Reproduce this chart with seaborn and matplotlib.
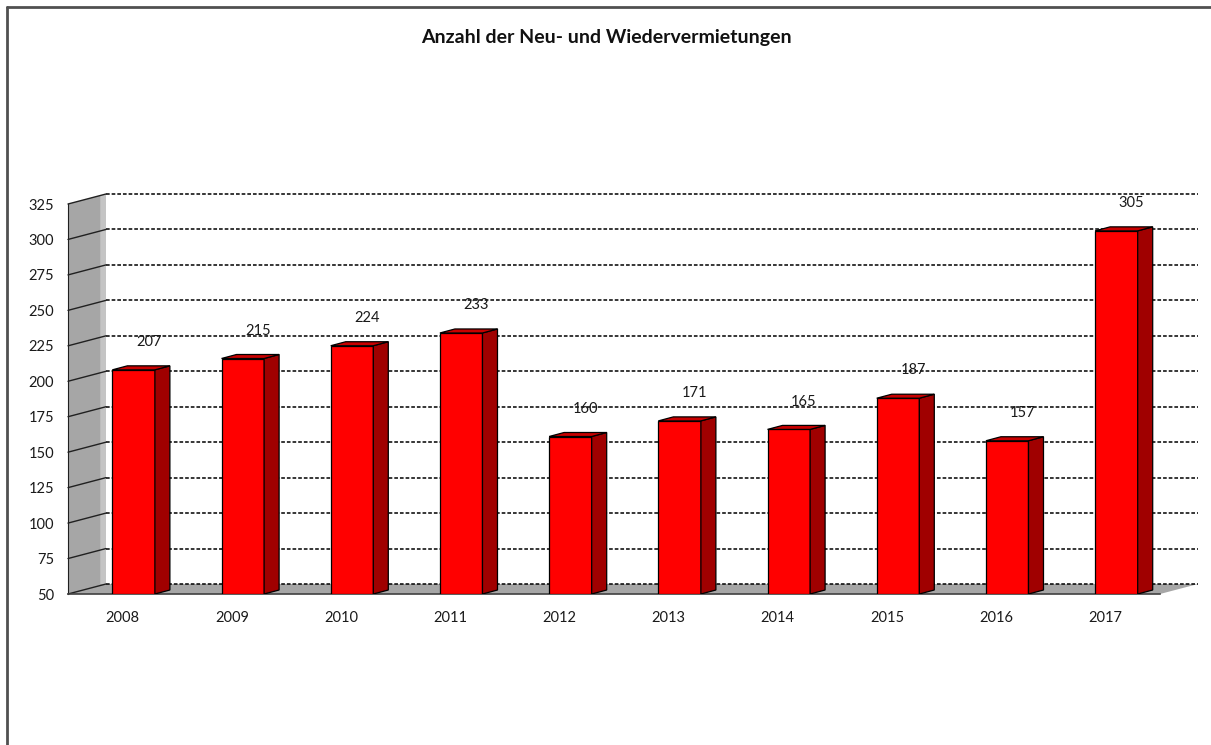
import pandas as pd
import matplotlib
matplotlib.use("Agg")
import matplotlib.pyplot as plt
from matplotlib.patches import Polygon
import seaborn as sns

# data
years = ["2008", "2009", "2010", "2011", "2012", "2013", "2014", "2015", "2016", "2017"]
counts = [207, 215, 224, 233, 160, 171, 165, 187, 157, 305]
y_ticks = [50, 75, 100, 125, 150, 175, 200, 225, 250, 275, 300, 325]
title = "Anzahl der Neu- und Wiedervermietungen"

df = pd.DataFrame({"Jahr": years, "Anzahl": counts})

sns.set_style("white")
plt.rcParams["font.family"] = ["Lato", "DejaVu Sans"]

W, H = 1211, 745
fig = plt.figure(figsize=(W / 100, H / 100), dpi=100)
# axes placed so the front plane matches the reference
ax = fig.add_axes([68 / W, (H - 594) / H, 1092 / W, 390 / H])
ymin, ymax = y_ticks[0], y_ticks[-1]
ax.set_xlim(-0.5, len(years) - 0.5)
ax.set_ylim(ymin, ymax)

# pixel -> data helpers for the fake 3d depth
px_x = 1092 / len(years)
px_y = 390 / (ymax - ymin)
wall_dx, wall_dy = 38 / px_x, 10 / px_y   # back wall offset
bar_dx, bar_dy = 15 / px_x, 4 / px_y      # bar depth
shift = 11 / px_x                          # bars sit mid-depth
lift = 1.5 / px_y

wall_col = "#a6a6a6"
x0, x1 = -0.5, len(years) - 0.5

# left wall
ax.add_patch(Polygon([(x0, ymin), (x0, ymax), (x0 + wall_dx, ymax + wall_dy),
                      (x0 + wall_dx, ymin + wall_dy)], closed=True,
                     facecolor=wall_col, edgecolor="none", clip_on=False, zorder=1))
ax.add_patch(Polygon([(x0 + wall_dx * 0.85, ymin + wall_dy), (x0 + wall_dx * 0.85, ymax + wall_dy * 0.85),
                      (x0 + wall_dx, ymax + wall_dy), (x0 + wall_dx, ymin + wall_dy)], closed=True,
                     facecolor="#c4c4c4", edgecolor="none", clip_on=False, zorder=1))
# floor
ax.add_patch(Polygon([(x0, ymin), (x1, ymin), (x1 + wall_dx, ymin + wall_dy),
                      (x0 + wall_dx, ymin + wall_dy)], closed=True,
                     facecolor=wall_col, edgecolor="none", clip_on=False, zorder=1))

# gridlines on the back wall + slanted lines over the side wall
for v in y_ticks:
    ax.plot([x0 + wall_dx, x1 + wall_dx], [v + wall_dy, v + wall_dy], color="black",
            lw=1.1, dashes=(2.4, 1.3), clip_on=False, zorder=2)
    ax.plot([x0, x0 + wall_dx], [v, v + wall_dy], color="#202020", lw=1.0,
            clip_on=False, zorder=2)

# front faces
sns.barplot(data=df, x="Jahr", y="Anzahl", color="#ff0000", width=0.39,
            edgecolor="black", linewidth=0.9, saturation=1, ax=ax, zorder=3)

for p in ax.containers[0]:
    val = p.get_y() + p.get_height()
    top = val + lift
    p.set_x(p.get_x() + shift)
    p.set_y(ymin)
    p.set_height(top - ymin)
    l, r = p.get_x(), p.get_x() + p.get_width()
    # side face
    ax.add_patch(Polygon([(r, ymin), (r, top), (r + bar_dx, top + bar_dy), (r + bar_dx, ymin + bar_dy)],
                         closed=True, facecolor="#a00000", edgecolor="black", lw=0.9, zorder=3))
    # top face
    ax.add_patch(Polygon([(l, top), (r, top), (r + bar_dx, top + bar_dy), (l + bar_dx, top + bar_dy)],
                         closed=True, facecolor="#c80000", edgecolor="black", lw=0.9, zorder=3,
                         clip_on=False))
    ax.annotate(f"{val:.0f}", xy=((l + r) / 2 + bar_dx, top), xytext=(0, 20),
                textcoords="offset points", ha="center", va="center",
                fontsize=10.5, color="#1a1a1a", zorder=5)

# axes styling
for s in ["top", "right"]:
    ax.spines[s].set_visible(False)
ax.spines["left"].set_color("#202020")
ax.spines["bottom"].set_color("#404040")
ax.spines["bottom"].set_linewidth(1.2)
ax.set_yticks(y_ticks)
ax.set_yticklabels([str(v) for v in y_ticks], fontsize=10.5, color="#1a1a1a")
ax.set_xticks(range(len(years)))
ax.set_xticklabels(years, fontsize=10.5, color="#1a1a1a")
ax.set_xticks([i - 0.5 for i in range(len(years) + 1)], minor=True)
ax.tick_params(axis="x", which="major", length=0, pad=12)
ax.tick_params(axis="x", which="minor", length=6, color="#404040", direction="out")
ax.tick_params(axis="y", length=5, color="#202020", direction="out", pad=5)
ax.set_xlabel("")
ax.set_ylabel("")
ax.set_facecolor("none")

fig.text(606 / W, 1 - 37 / H, title, ha="center", va="center", fontsize=14,
         fontweight="bold", color="#111111")

# chart frame (only left and top edges visible in the reference)
fig.add_artist(plt.Line2D([7 / W, 7 / W], [0, 1 - 7 / H], color="#505050", lw=2.0))
fig.add_artist(plt.Line2D([7 / W, 1], [1 - 7 / H, 1 - 7 / H], color="#505050", lw=2.0))

fig.savefig("out.png", dpi=100)
